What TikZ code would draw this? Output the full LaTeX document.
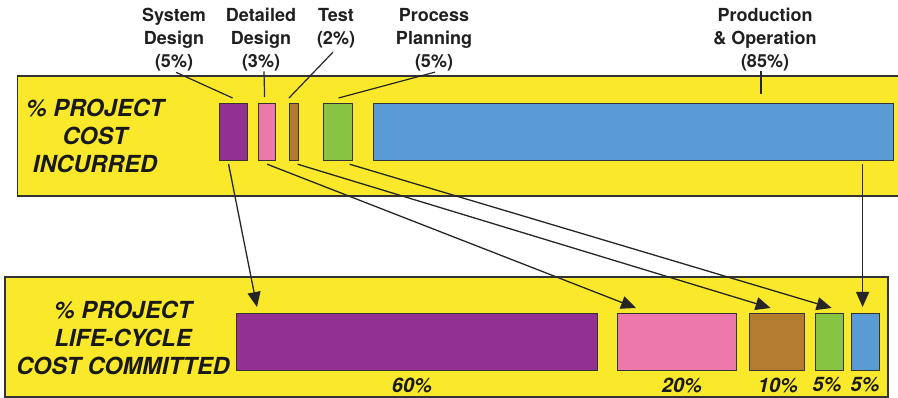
\documentclass[tikz,border=0pt]{standalone}
\usepackage{fontspec}
\setmainfont{TeX Gyre Heros}
\usetikzlibrary{arrows.meta,positioning,calc}

\definecolor{panelyellow}{RGB}{250,233,43}
\definecolor{sysc}{RGB}{146,49,145}
\definecolor{detc}{RGB}{236,120,172}
\definecolor{testc}{RGB}{179,124,47}
\definecolor{procc}{RGB}{135,196,65}
\definecolor{prodc}{RGB}{88,155,213}

\begin{document}
\begin{tikzpicture}[x=1pt,y=-1pt,
    frame/.style={draw=black!80, line width=1.5pt},
    bar/.style={draw=black!80, line width=1.2pt, inner sep=0pt, anchor=north west, minimum height=57},
    phase/.style={font=\fontsize{18}{23}\selectfont\bfseries, align=center, inner sep=0pt, anchor=north, text=black!88},
    heading/.style={font=\fontsize{23.5}{28}\selectfont\bfseries\itshape, align=center, inner sep=0pt, text=black!90},
    share/.style={font=\fontsize{20}{24}\selectfont\bfseries\itshape, inner sep=0pt, text=black!90},
    lead/.style={line width=1.2pt, black!85},
    link/.style={line width=1.3pt, black!85, -{Triangle[length=15pt,width=13pt]}}]
    \useasboundingbox (0,0) rectangle (898,398);

    \fill[panelyellow] (17.5,76) rectangle (898,196);
    \draw[frame] (898,76) -- (17.5,76) -- (17.5,196) -- (898,196);
    \draw[frame, fill=panelyellow] (5,277) rectangle (888,397);

    \node[heading] (topH) at (95,136) {\% PROJECT\\COST\\INCURRED};
    \node[heading] (botH) at (123,337.5) {\% PROJECT\\LIFE-CYCLE\\COST COMMITTED};

    \node[bar, fill=sysc, minimum width=28] (sysT) at (219,103) {};
    \node[bar, fill=detc, minimum width=17] (detT) at (258,103) {};
    \node[bar, fill=testc, minimum width=9] (testT) at (289,103) {};
    \node[bar, fill=procc, minimum width=29] (procT) at (323,103) {};
    \node[bar, fill=prodc, minimum width=520] (prodT) at (373,103) {};

    \node[bar, fill=sysc, minimum width=361] (sysB) at (236,313) {};
    \node[bar, fill=detc, minimum width=119] (detB) at (617,313) {};
    \node[bar, fill=testc, minimum width=55] (testB) at (749,313) {};
    \node[bar, fill=procc, minimum width=28] (procB) at (815,313) {};
    \node[bar, fill=prodc, minimum width=28] (prodB) at (851,313) {};

    \node[phase] (sysL) at (174,8) {System\\Design\\(5\%)};
    \node[phase] (detL) at (261,8) {Detailed\\Design\\(3\%)};
    \node[phase] (testL) at (336,8) {Test\\(2\%)};
    \node[phase] (procL) at (434,8) {Process\\Planning\\(5\%)};
    \node[phase] (prodL) at (765,8) {Production\\\& Operation\\(85\%)};

    \draw[lead] ($(sysL.south)+(2,1)$) -- ($(sysT.north)+(-1,-5)$);
    \draw[lead] ($(detL.south)+(3,0)$) -- ($(detT.north)+(-2.5,-6)$);
    \draw[lead] ($(testL.south)+(-3,4)$) -- ($(testT.north west)+(0,-5)$);
    \draw[lead] ($(procL.south)+(1,1)$) -- ($(procT.north)+(0.5,-5)$);
    \draw[lead] ($(prodL.south)+(-4,0)$) -- ($(prodL.south |- prodT.north)+(-4,-9)$);

    \draw[link] ($(sysT.south)+(-5,3)$) -- ($(sysB.north west)+(21,-6)$);
    \draw[link] ($(detT.south)+(0,3)$) -- ($(detB.north west)+(19,-5)$);
    \draw[link] ($(testT.south)+(3.5,3)$) -- ($(testB.north)+(-6.5,-5)$);
    \draw[link] ($(procT.south)+(11.5,3)$) -- ($(procB.north)+(2,-5)$);
    \draw[link] ($(prodB.north |- prodT.south)+(-3,3)$) -- ($(prodB.north)+(-3,-6)$);

    \node[share] (sysS) at (412,385) {60\%};
    \node[share] (detS) at (682,385) {20\%};
    \node[share] (testS) at (778,385) {10\%};
    \node[share] (procS) at (827,385) {5\%};
    \node[share] (prodS) at (865,385) {5\%};
\end{tikzpicture}
\end{document}
